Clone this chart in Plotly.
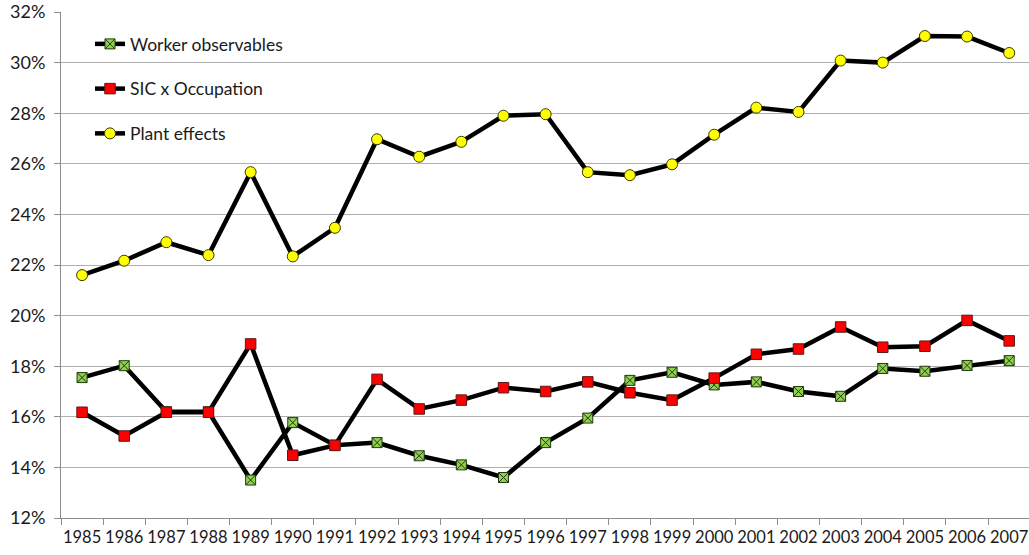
import plotly.graph_objects as go

years = [str(y) for y in range(1985, 2008)]

worker_obs = [17.55, 18.02, 16.2, 16.2, 13.5, 15.77, 14.88, 14.98, 14.46, 14.1, 13.6, 14.98,
              15.95, 17.44, 17.76, 17.26, 17.38, 17.0, 16.81, 17.91, 17.8, 18.03, 18.22]
sic_occ = [16.18, 15.24, 16.18, 16.18, 18.88, 14.48, 14.87, 17.48, 16.31, 16.66, 17.15, 17.0,
           17.38, 16.95, 16.66, 17.53, 18.47, 18.68, 19.55, 18.75, 18.79, 19.81, 19.0]
plant_eff = [21.6, 22.17, 22.9, 22.39, 25.67, 22.34, 23.47, 26.97, 26.28, 26.87, 27.9, 27.96,
             25.67, 25.55, 25.98, 27.15, 28.22, 28.05, 30.08, 30.0, 31.05, 31.03, 30.38]

y_ticks = list(range(12, 33, 2))
y_labels = [f"{v}%" for v in y_ticks]

W, H = 1029, 555
ML, MR, MT, MB = 61, 0, 12, 37
font_family = "Lato, 'Open Sans', sans-serif"

fig = go.Figure()
series = [
    ("Worker observables", worker_obs, dict(symbol="square-x", size=10, color="#92D050",
                                            line=dict(color="#1f3a0f", width=1))),
    ("SIC x Occupation", sic_occ, dict(symbol="square", size=10.5, color="#FF0000",
                                       line=dict(color="#5a1a1a", width=1))),
    ("Plant effects", plant_eff, dict(symbol="circle", size=11, color="#FFFF00",
                                      line=dict(color="#3a3a00", width=1))),
]
for i, (name, vals, mk) in enumerate(series):
    fig.add_trace(go.Scatter(
        x=years, y=vals, name=name, mode="lines+markers",
        line=dict(color="black", width=4.5), marker=mk,
        legendgroup=f"g{i}",
    ))

pw = W - ML - MR
ph = H - MT - MB


def px_x(sx):
    return (sx - ML) / pw


def px_y(sy):
    return 1 - (sy - MT) / ph


fig.add_shape(type="rect", xref="paper", yref="paper", layer="between",
              x0=px_x(72), x1=px_x(319), y0=px_y(150), y1=px_y(20),
              fillcolor="white", line=dict(width=0))

fig.update_layout(
    width=W, height=H,
    margin=dict(l=ML, r=MR, t=MT, b=MB, pad=0),
    paper_bgcolor="white", plot_bgcolor="white",
    font=dict(family=font_family, size=16, color="#1a1a1a"),
    showlegend=True,
    legend=dict(x=px_x(90), y=px_y(26), xanchor="left", yanchor="top",
                bgcolor="rgba(0,0,0,0)", font=dict(size=17.5, color="#1a1a1a"),
                tracegroupgap=19, traceorder="grouped", itemwidth=30),
)
fig.update_xaxes(
    type="category", range=[-0.5, 22.47], automargin=False, tickangle=0,
    showgrid=False, showline=True, linecolor="#8c8c8c", linewidth=1,
    ticks="outside", tickson="boundaries", ticklen=6, tickcolor="#8c8c8c",
    ticklabelstandoff=4,
    tickfont=dict(size=16.5, color="#1a1a1a"), zeroline=False,
)
fig.update_yaxes(
    range=[12, 32], tickvals=y_ticks, ticktext=y_labels, automargin=False,
    showgrid=True, gridcolor="#b0b0b0", gridwidth=1,
    showline=True, linecolor="#8c8c8c", linewidth=1,
    ticks="outside", ticklen=6, tickcolor="#8c8c8c", ticklabelstandoff=5,
    ticklabeloverflow="allow",
    tickfont=dict(size=18, color="#1a1a1a"), zeroline=False,
)

fig.write_html("out.html",
               config={"displayModeBar": False},
               post_script="document.body.style.margin='0';document.body.style.overflow='hidden';")
